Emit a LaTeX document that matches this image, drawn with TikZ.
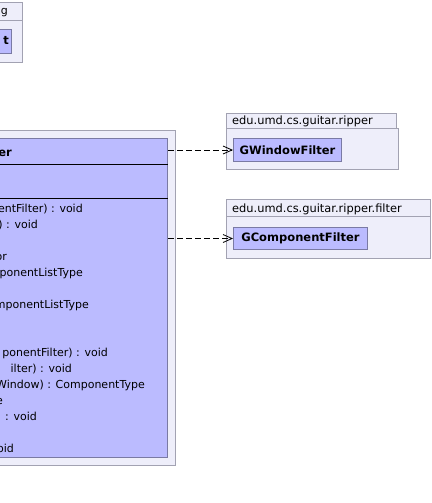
\documentclass[tikz,border=0pt]{standalone}
\usepackage{fontspec}
\setmainfont{DejaVu Sans}
\usepackage{xcolor}
\usepackage{tikz}
\usetikzlibrary{arrows.meta}
\definecolor{pkgfill}{RGB}{238,238,250}
\definecolor{pkgline}{RGB}{162,162,178}
\definecolor{clsfill}{RGB}{187,187,255}
\definecolor{clsline}{RGB}{122,122,164}
\tikzset{
  box/.style={anchor=north west, inner sep=0pt},
  pkg/.style={box, draw=pkgline, fill=pkgfill, line width=1pt},
  cls/.style={box, draw=clsline, fill=clsfill, line width=1pt, font=\fontsize{11.5}{14}\bfseries},
  member/.style={anchor=base east, inner sep=0pt},
  pkglabel/.style={anchor=base west, inner sep=0pt, font=\fontsize{11.4}{14}\selectfont},
  dep/.style={line width=0.8pt, dash pattern=on 6pt off 3pt, -{Straight Barb[length=9pt, width=8pt]}}
}

\begin{document}
\begin{tikzpicture}[x=1pt, y=-1pt, font=\fontsize{11}{14}\selectfont]
\useasboundingbox (0,0) rectangle (431,503);

% package cut off at the top left
\node[pkg, minimum width=42pt, minimum height=18pt] (toptab) at (-20,2) {};
\node[pkg, minimum width=42pt, minimum height=42pt] (toppkg) at (-20,20) {};
\node[member] (toplabel) at (8,15) {g};
\node[cls, minimum width=31pt, minimum height=24pt] (topcls) at (-20,29) {};
\node[member, font=\fontsize{11.5}{14}\bfseries] (topname) at (9,45) {t};

% main package and class
\node[pkg, minimum width=195pt, minimum height=335pt] (mainpkg) at (-20,130) {};
\node[cls, minimum width=187pt, minimum height=319pt] (mainclass) at (-20,138) {};
\draw ([yshift=-26pt]mainclass.north west) -- ([yshift=-26pt]mainclass.north east);
\draw ([yshift=-60pt]mainclass.north west) -- ([yshift=-60pt]mainclass.north east);
\node[member, font=\fontsize{11.5}{14}\bfseries] (mainname) at (12,156) {er};

\node[member] (m1) at (83,212) {entFilter) : void};
\node[member] (m2) at (38,228) {) : void};
\node[member] (m4) at (7,260) {or};
\node[member] (m5) at (83,276) {ponentListType};
\node[member] (m7) at (89,308) {mponentListType};
\node[member] (m10) at (108,356) {ponentFilter) : void};
\node[member] (m11) at (72,372) {ilter) : void};
\node[member] (m12) at (145,388) {Window) : ComponentType};
\node[member] (m13) at (3,404) {e};
\node[member] (m14) at (37,420) {: void};
\node[member] (m16) at (14,452) {oid};

% edu.umd.cs.guitar.ripper
\node[pkg, minimum width=170pt, minimum height=15pt] (riptab) at (226,113) {};
\node[pkg, minimum width=172pt, minimum height=41pt] (rippkg) at (226,128) {};
\node[pkglabel] (riplabel) at (232,124) {edu.umd.cs.guitar.ripper};
\node[cls, minimum width=108pt, minimum height=23pt] (gwf) at (233,138) {GWindowFilter};

% edu.umd.cs.guitar.ripper.filter
\node[pkg, minimum width=204pt, minimum height=17pt] (filtab) at (226,199) {};
\node[pkg, minimum width=204pt, minimum height=42pt] (filpkg) at (226,216) {};
\node[pkglabel] (fillabel) at (232,212) {edu.umd.cs.guitar.ripper.filter};
\node[cls, minimum width=134pt, minimum height=22pt] (gcf) at (233,227) {GComponentFilter};

% dependencies
\draw[dep] (gwf.west -| mainclass.east) -- (gwf.west);
\draw[dep] (gcf.west -| mainclass.east) -- (gcf.west);

\end{tikzpicture}
\end{document}
